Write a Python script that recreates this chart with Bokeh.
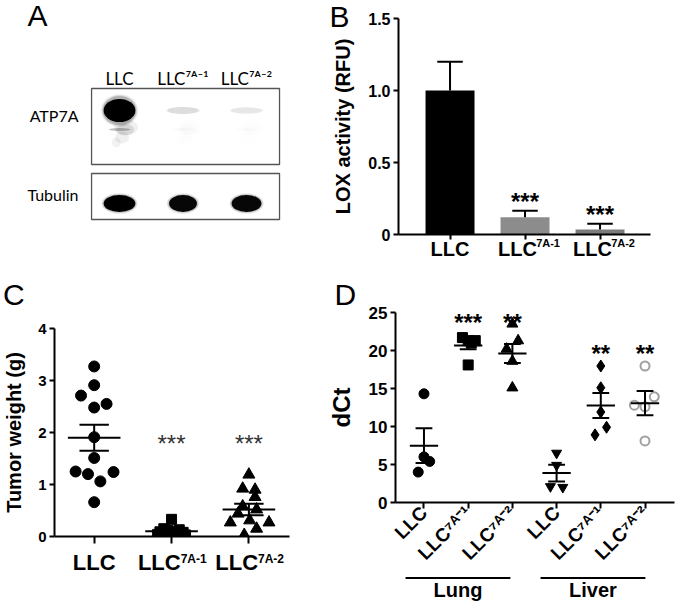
import math
from bokeh.plotting import figure
from bokeh.layouts import row, column
from bokeh.models import Range1d, FixedTicker, Label, LinearAxis
from bokeh.embed import file_html
from bokeh.resources import INLINE
from bokeh.core.properties import value

FONT = "Liberation Sans"
BLOT_FONT = "Lato"

# ---------------- data ----------------
# Panel A: western blot
lanes = ["LLC", "LLC⁷ᴬ⁻¹", "LLC⁷ᴬ⁻²"]
blot_rows = ["ATP7A", "Tubulin"]
atp7a_signal = [1.0, 0.10, 0.07]
tubulin_signal = [1.0, 0.97, 0.97]

# Panel B: LOX activity
lox_base = ["LLC", "LLC", "LLC"]
lox_sup = ["", "7A-1", "7A-2"]
lox_mean = [1.0, 0.12, 0.035]
lox_sem = [0.20, 0.045, 0.04]
lox_sig = ["", "***", "***"]
lox_colors = ["#000000", "#8c8c8c", "#7b7b7b"]
lox_ticks = [0, 0.5, 1.0, 1.5]
lox_tick_labels = ["0", "0.5", "1.0", "1.5"]

# Panel C: tumor weight
tumor_base = ["LLC", "LLC", "LLC"]
tumor_sup = ["", "7A-1", "7A-2"]
tumor_llc = [3.27, 2.91, 2.71, 2.48, 2.55, 1.91, 1.51, 1.25, 1.20, 1.24, 1.06, 0.66]
tumor_llc_jitter = [0, 0, -0.17, 0, 0.16, 0, 0, -0.24, -0.08, 0.25, 0.08, 0]
tumor_7a1 = [0.33, 0.15, 0.13, 0.12, 0.10, 0.09, 0.08, 0.06, 0.05, 0.04, 0.03, 0.02]
tumor_7a1_jitter = [0, -0.10, 0.10, -0.05, 0.05, -0.15, 0.15, -0.05, 0.05, -0.18, 0.18, 0]
tumor_7a2 = [1.19, 0.92, 0.90, 0.76, 0.58, 0.52, 0.44, 0.31, 0.27, 0.27, 0.15, 0.03]
tumor_7a2_jitter = [0, -0.08, 0.08, 0.08, -0.08, 0.10, -0.14, 0.01, -0.24, 0.26, 0.10, -0.06]
tumor_mean = [1.90, 0.10, 0.52]
tumor_sem = [0.25, 0.02, 0.11]
tumor_sig = ["", "***", "***"]
tumor_sig_y = [0, 1.79, 1.79]

# Panel D: dCt
dct_groups = ["LLC", "LLC⁷ᴬ⁻¹", "LLC⁷ᴬ⁻²", "LLC", "LLC⁷ᴬ⁻¹", "LLC⁷ᴬ⁻²"]
tissues = ["Lung", "Liver"]
tissue_members = [[0, 1, 2], [3, 4, 5]]
lung_llc = [14.3, 6.0, 5.4, 4.0]
lung_llc_jitter = [0, 0, 0.13, -0.13]
lung_7a1 = [21.7, 21.3, 21.3, 21.0, 18.1]
lung_7a1_jitter = [-0.13, 0.16, 0.0, 0.07, 0.0]
lung_7a2 = [23.5, 21.3, 20.2, 18.6, 15.1]
lung_7a2_jitter = [0, 0.13, -0.13, 0, 0]
liver_llc = [6.5, 4.9, 2.1, 2.0]
liver_llc_jitter = [0, 0, -0.14, 0.14]
liver_7a1 = [17.96, 15.1, 11.9, 8.9, 9.9]
liver_7a1_jitter = [0, 0, 0, -0.13, 0.13]
liver_7a2 = [17.96, 13.9, 12.8, 12.6, 8.1]
liver_7a2_jitter = [0, 0.21, -0.24, 0, 0]
dct_mean = [7.48, 20.66, 19.6, 3.87, 12.76, 13.07]
dct_sem = [2.29, 0.5, 1.25, 1.1, 1.65, 1.6]
dct_sig = ["", "***", "**", "", "**", "**"]
dct_sig_y = [0, 23.7, 23.7, 0, 19.6, 19.6]

PAD_B = "\u2007\u2009"
PAD_C = "\u2007\u2007"


def base_fig(w, h, xr, yr, ml, mr, mt, mb, axes=True):
    kw = {}
    if not axes:
        kw = dict(x_axis_type=None, y_axis_type=None)
    p = figure(width=w, height=h, x_range=xr, y_range=yr, output_backend="svg",
               toolbar_location=None, min_border_left=ml, min_border_right=mr,
               min_border_top=mt, min_border_bottom=mb, **kw)
    try:
        p.frame_align = False
    except Exception:
        pass
    p.outline_line_color = None
    p.background_fill_color = "white"
    p.border_fill_color = "white"
    if axes:
        p.xgrid.visible = False
        p.ygrid.visible = False
    return p


def style_axis(ax, size):
    ax.axis_line_width = 2
    ax.axis_line_color = "black"
    ax.major_tick_line_width = 2
    ax.major_tick_line_color = "black"
    ax.minor_tick_line_color = None
    ax.major_tick_in = 0
    ax.major_tick_out = 5
    ax.major_label_text_font = FONT
    ax.major_label_text_font_style = "bold"
    ax.major_label_text_font_size = size
    ax.major_label_text_color = "black"
    ax.axis_label_text_font = FONT
    ax.axis_label_text_font_style = "bold"
    ax.axis_label_text_color = "black"


def page_to_data(frame, xr, yr, px, py):
    left, top, w, h = frame
    x = xr.start + (px - left) / w * (xr.end - xr.start)
    y = yr.end - (py - top) / h * (yr.end - yr.start)
    return x, y


def side_label(p, side, x, y, t, size, bold=False, font=FONT):
    p.add_layout(Label(x=x, y=y, text=t, text_font=font, text_font_size=size,
                       text_font_style="bold" if bold else "normal",
                       text_color="black", text_align="left", text_baseline="alphabetic"), side)


def letter(p, side, frame, px, py, t, size):
    x, y = page_to_data(frame, p.x_range, p.y_range, px, py)
    side_label(p, side, x, y, t, size)


# ---------------- Panel A ----------------
A_FRAME = (89, 86, 192, 135)
lane_pos = [i + 1 for i in range(len(lanes))]
pA = base_fig(328, 276, Range1d(0.5276, 3.551), Range1d(-2, 133), 89, 47, 86, 55, axes=False)
pA.rect(x=[2.04, 2.04], y=[93, 23], width=2.96, height=[76, 46],
        fill_color=None, line_color="#555555", line_width=1.3)
# ATP7A: soft halo layers, smear, core
for w, h, a in [(0.60, 28, 0.05), (0.56, 26, 0.10), (0.53, 24, 0.18)]:
    pA.ellipse(x=lane_pos, y=[109] * 3, width=w, height=[h * s + 5 for s in atp7a_signal],
               fill_color="black", fill_alpha=[a * s for s in atp7a_signal], line_color=None)
for dx_, yy, w, h, a in [(0.10, 92, 0.38, 16, 0.06), (0.09, 90, 0.28, 11, 0.10),
                         (0.04, 82, 0.22, 12, 0.06), (-0.05, 77, 0.14, 10, 0.05)]:
    pA.ellipse(x=[l + dx_ for l in lane_pos], y=[yy] * 3, width=w, height=h,
               fill_color="black", fill_alpha=[a * s for s in atp7a_signal], line_color=None)
pA.ellipse(x=lane_pos, y=[109] * 3, width=0.50, height=[18 * s + 5 for s in atp7a_signal],
           fill_color="black", fill_alpha=[min(1.0, s) for s in atp7a_signal], line_color=None)
pA.ellipse(x=lane_pos, y=[90] * 3, width=0.34, height=3,
           fill_color="black", fill_alpha=[0.25 * s for s in atp7a_signal], line_color=None)
# Tubulin
for w, h, a in [(0.57, 21, 0.07), (0.54, 19, 0.15)]:
    pA.ellipse(x=lane_pos, y=[16] * 3, width=[w * t for t in [1.0, 0.9, 0.95]], height=h,
               fill_color="black", fill_alpha=[a * s for s in tubulin_signal], line_color=None)
pA.ellipse(x=lane_pos, y=[16] * 3, width=[0.50, 0.44, 0.47], height=17,
           fill_color="black", fill_alpha=tubulin_signal, line_color=None)

top_ax = LinearAxis(ticker=FixedTicker(ticks=lane_pos),
                    major_label_overrides={p: t for p, t in zip(lane_pos, lanes)})
pA.add_layout(top_ax, "above")
left_ax = LinearAxis(ticker=FixedTicker(ticks=[104, 25]),
                     major_label_overrides={104: blot_rows[0], 25: blot_rows[1]})
pA.add_layout(left_ax, "left")
for ax in (top_ax, left_ax):
    ax.axis_line_color = None
    ax.major_tick_line_color = None
    ax.minor_tick_line_color = None
    ax.major_tick_out = 0
    ax.major_label_text_font = BLOT_FONT
    ax.major_label_text_color = "black"
top_ax.major_label_text_font_size = "17px"
top_ax.major_label_standoff = -2
left_ax.major_label_text_font_size = "16px"
left_ax.major_label_standoff = 11
left_ax.major_label_orientation = "horizontal"
letter(pA, "above", A_FRAME, 27, 15, "A", "30px")

# ---------------- Panel B ----------------
B_FRAME = (398, 18, 252, 216)
bx = [i + 1 for i in range(len(lox_base))]
pB = base_fig(349, 276, Range1d(0.313, 3.673), Range1d(0, 1.5), 70, 27, 18, 42)
tops = [m + e for m, e in zip(lox_mean, lox_sem)]
pB.vbar(x=bx, top=lox_mean, width=0.653, fill_color=lox_colors, line_color=None)
pB.segment(x0=bx, y0=lox_mean, x1=bx, y1=tops, line_color="black", line_width=2)
pB.segment(x0=[x - 0.17 for x in bx], y0=tops, x1=[x + 0.17 for x in bx], y1=tops,
           line_color="black", line_width=2)
pB.text(x=bx, y=[t + 0.065 for t in tops], text=lox_sig, text_font=value(FONT), text_font_size="24px",
        text_font_style="bold", text_align="center", text_baseline="alphabetic", text_color="black")
pB.xaxis.ticker = FixedTicker(ticks=bx)
pB.xaxis.major_label_overrides = {x: b + (PAD_B if s else "") for x, b, s in zip(bx, lox_base, lox_sup)}
pB.yaxis.ticker = FixedTicker(ticks=lox_ticks)
pB.yaxis.major_label_overrides = {t: l for t, l in zip(lox_ticks, lox_tick_labels)}
pB.yaxis.axis_label = "LOX activity (RFU)"
style_axis(pB.xaxis[0], "20px")
style_axis(pB.yaxis[0], "16px")
pB.xaxis.major_label_standoff = -2
pB.yaxis.major_label_standoff = 3
pB.yaxis.axis_label_text_font_size = "20px"
pB.yaxis.axis_label_standoff = 11
sup_sides_B = ["below", "below", "above"]
for x, s, side in zip(bx, lox_sup, sup_sides_B):
    if s:
        side_label(pB, side, x + 0.148, -0.062, s, "11px", bold=True)
letter(pB, "right", B_FRAME, 329, 16, "B", "30px")

# ---------------- Panel C ----------------
C_FRAME = (52, 328, 237, 208)
cx = [i + 1 for i in range(len(tumor_base))]
pC = base_fig(324, 331, Range1d(0.487, 3.525), Range1d(0, 4), 52, 35, 52, 71)
c_series = [(tumor_llc, tumor_llc_jitter, "circle", 11),
            (tumor_7a1, tumor_7a1_jitter, "square", 10),
            (tumor_7a2, tumor_7a2_jitter, "triangle", 12)]
for i, (vals, jit, mk, sz) in enumerate(c_series):
    pC.scatter(x=[cx[i] + j for j in jit], y=vals, marker=mk, size=sz,
               fill_color="black", line_color="black")
pC.segment(x0=[x - 0.34 for x in cx], y0=tumor_mean, x1=[x + 0.34 for x in cx], y1=tumor_mean,
           line_color="black", line_width=2)
pC.segment(x0=cx, y0=[m - s for m, s in zip(tumor_mean, tumor_sem)],
           x1=cx, y1=[m + s for m, s in zip(tumor_mean, tumor_sem)], line_color="black", line_width=2)
for sgn in (-1, 1):
    ys = [m + sgn * s for m, s in zip(tumor_mean, tumor_sem)]
    pC.segment(x0=[x - 0.19 for x in cx], y0=ys, x1=[x + 0.19 for x in cx], y1=ys,
               line_color="black", line_width=2)
pC.text(x=cx, y=tumor_sig_y, text=tumor_sig, text_font=value(FONT), text_font_size="24px",
        text_align="center", text_baseline="alphabetic", text_color="#333333")
pC.xaxis.ticker = FixedTicker(ticks=cx)
pC.xaxis.major_label_overrides = {x: b + (PAD_C if s else "") for x, b, s in zip(cx, tumor_base, tumor_sup)}
pC.yaxis.ticker = FixedTicker(ticks=[0, 1, 2, 3, 4])
pC.yaxis.axis_label = "Tumor weight (g)"
style_axis(pC.xaxis[0], "22px")
style_axis(pC.yaxis[0], "15px")
pC.xaxis.major_tick_out = 7
pC.xaxis.major_label_standoff = 6
pC.yaxis.major_label_standoff = 3
pC.yaxis.axis_label_text_font_size = "20px"
pC.yaxis.axis_label_standoff = 10
for x, s in zip(cx, tumor_sup):
    if s:
        side_label(pC, "below", x + 0.118, -0.44, s, "12px", bold=True)
letter(pC, "above", C_FRAME, 0, 294, "C", "30px")

# ---------------- Panel D ----------------
D_FRAME = (390, 312, 284, 190)
dx = [i + 1 for i in range(len(dct_groups))]
pD = base_fig(353, 300, Range1d(0.356, 6.667), Range1d(0, 25), 66, 3, 36, 74)
d_series = [(lung_llc, lung_llc_jitter, "circle", 10, "black", "black"),
            (lung_7a1, lung_7a1_jitter, "square", 10, "black", "black"),
            (lung_7a2, lung_7a2_jitter, "triangle", 11, "black", "black"),
            (liver_llc, liver_llc_jitter, "inverted_triangle", 10, "black", "black"),
            (liver_7a1, liver_7a1_jitter, "diamond", 12, "black", "black"),
            (liver_7a2, liver_7a2_jitter, "circle", 9, None, "#a0a0a0")]
for i, (vals, jit, mk, sz, fc, lc) in enumerate(d_series):
    pD.scatter(x=[dx[i] + j for j in jit], y=vals, marker=mk, size=sz,
               fill_color=fc, line_color=lc, line_width=2 if fc is None else 1)
pD.segment(x0=[x - 0.32 for x in dx], y0=dct_mean, x1=[x + 0.32 for x in dx], y1=dct_mean,
           line_color="black", line_width=2)
pD.segment(x0=dx, y0=[m - s for m, s in zip(dct_mean, dct_sem)],
           x1=dx, y1=[m + s for m, s in zip(dct_mean, dct_sem)], line_color="black", line_width=2)
for sgn in (-1, 1):
    ys = [m + sgn * s for m, s in zip(dct_mean, dct_sem)]
    pD.segment(x0=[x - 0.19 for x in dx], y0=ys, x1=[x + 0.19 for x in dx], y1=ys,
               line_color="black", line_width=2)
pD.text(x=dx, y=dct_sig_y, text=dct_sig, text_font=value(FONT), text_font_size="24px",
        text_font_style="bold", text_align="center", text_baseline="alphabetic", text_color="black")
pD.xaxis.ticker = FixedTicker(ticks=dx)
pD.xaxis.major_label_overrides = {x: g for x, g in zip(dx, dct_groups)}
pD.xaxis.major_label_orientation = math.pi / 4
pD.yaxis.ticker = FixedTicker(ticks=[0, 5, 10, 15, 20, 25])
pD.yaxis.axis_label = "dCt"
style_axis(pD.xaxis[0], "19px")
style_axis(pD.yaxis[0], "17px")
pD.xaxis.major_tick_out = 6
pD.xaxis.major_label_standoff = 1
pD.yaxis.major_label_standoff = 3
pD.yaxis.axis_label_text_font_size = "24px"
pD.yaxis.axis_label_standoff = 11
letter(pD, "above", D_FRAME, 328, 294, "D", "30px")

# tissue grouping strip under panel D
pD2 = base_fig(353, 31, pD.x_range, Range1d(0, 1), 66, 3, 0, 0, axes=False)
g_x0 = [min(m) + 1 - 0.31 for m in tissue_members]
g_x1 = [max(m) + 1 + 0.02 for m in tissue_members]
pD2.segment(x0=g_x0, y0=[0.95] * 2, x1=g_x1, y1=[0.95] * 2, line_color="black", line_width=2)
pD2.text(x=[(a + b) / 2 for a, b in zip(g_x0, g_x1)], y=[0.55] * 2, text=tissues,
         text_font=value(FONT), text_font_size="20px", text_font_style="bold",
         text_align="center", text_baseline="middle", text_color="black")

layout = column(row(pA, pB), row(pC, column(pD, pD2)))
open("out.html", "w").write(file_html(layout, INLINE))
